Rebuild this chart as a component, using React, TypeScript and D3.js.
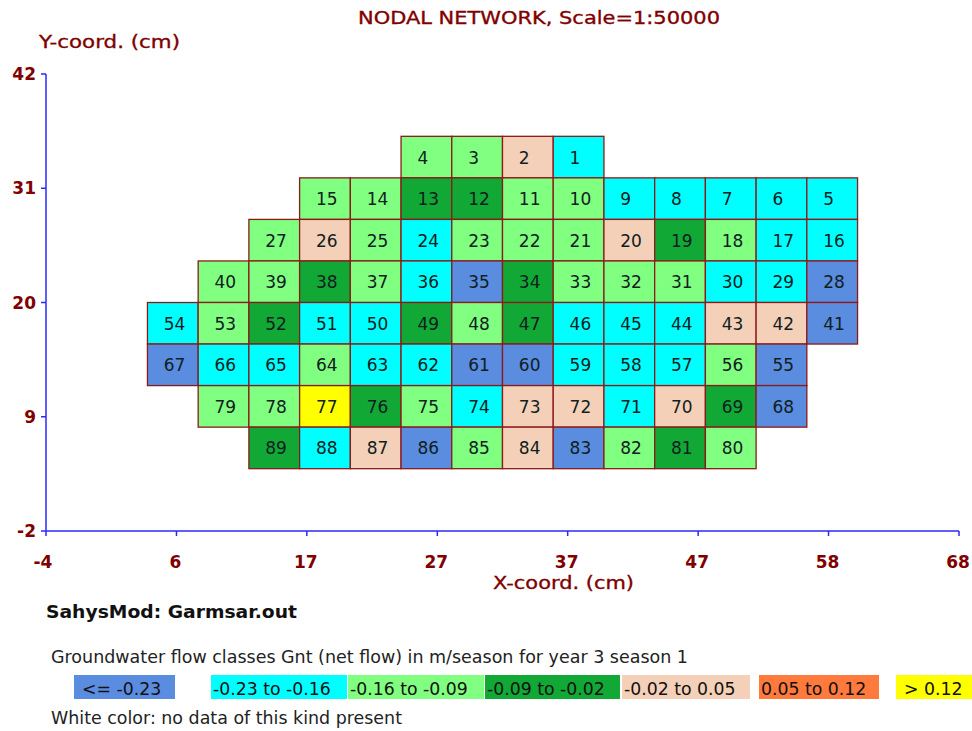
import React from "react";
import * as d3 from "d3";

const title = "NODAL NETWORK, Scale=1:50000";
const xLabel = "X-coord. (cm)";
const yLabel = "Y-coord. (cm)";
const source = "SahysMod: Garmsar.out";
const caption = "Groundwater flow classes Gnt (net flow) in m/season for year 3 season 1";
const footnote = "White color: no data of this kind present";

const xTickValues = [-4, 6.29, 16.57, 26.86, 37.14, 47.43, 57.71, 68];
const yTickValues = [42, 31, 20, 9, -2];

const classLabels = ["<= -0.23", "-0.23 to -0.16", "-0.16 to -0.09", "-0.09 to -0.02", "-0.02 to 0.05", "0.05 to 0.12", "> 0.12"];
const classColors = ["#5a8ce0", "#00ffff", "#80ff80", "#12a835", "#f5d0b8", "#ff7a3c", "#ffff00"];
const legendStart = [74, 211, 348, 485, 622, 759, 896];
const legendEnd = [175, 347, 484, 620, 750, 879, 972];

const cellSize = 4;
// grid rows: left edge (cm), bottom edge (cm), node ids and flow classes
const rowLeft = [24, 16, 12, 8, 4, 4, 8, 12];
const rowBottom = [32, 28, 24, 20, 16, 12, 8, 4];
const rowNodes = [
  [4, 3, 2, 1],
  [15, 14, 13, 12, 11, 10, 9, 8, 7, 6, 5],
  [27, 26, 25, 24, 23, 22, 21, 20, 19, 18, 17, 16],
  [40, 39, 38, 37, 36, 35, 34, 33, 32, 31, 30, 29, 28],
  [54, 53, 52, 51, 50, 49, 48, 47, 46, 45, 44, 43, 42, 41],
  [67, 66, 65, 64, 63, 62, 61, 60, 59, 58, 57, 56, 55],
  [79, 78, 77, 76, 75, 74, 73, 72, 71, 70, 69, 68],
  [89, 88, 87, 86, 85, 84, 83, 82, 81, 80],
];
const rowClasses = [
  [2, 2, 4, 1],
  [2, 2, 3, 3, 2, 2, 1, 1, 1, 1, 1],
  [2, 4, 2, 1, 2, 2, 2, 4, 3, 2, 1, 1],
  [2, 2, 3, 2, 1, 0, 3, 2, 2, 2, 1, 1, 0],
  [1, 2, 3, 1, 1, 3, 2, 3, 1, 1, 1, 4, 4, 0],
  [0, 1, 1, 2, 1, 1, 0, 0, 1, 1, 1, 2, 0],
  [2, 2, 6, 3, 2, 1, 4, 4, 1, 4, 3, 0],
  [3, 1, 4, 0, 2, 4, 0, 2, 3, 2],
];

const x = d3.scaleLinear().domain([-4, 68]).range([46, 959]);
const y = d3.scaleLinear().domain([-2, 42]).range([531, 74]);

const RED = "#800000";
const BLUE = "#2a2aff";
const UI = "'DejaVu Sans', sans-serif";

export default function App() {
  return (
    <svg width={972} height={731} style={{ position: "absolute", left: 0, top: 0, background: "#fff" }}>
      <text x={358} y={24} textLength={362} lengthAdjust="spacingAndGlyphs" fontFamily={UI} fontSize={18} fill={RED} stroke={RED} strokeWidth={0.35}>{title}</text>
      <text x={39} y={48} textLength={141} lengthAdjust="spacingAndGlyphs" fontFamily={UI} fontSize={18} fill={RED} stroke={RED} strokeWidth={0.35}>{yLabel}</text>
      <text x={493} y={589} textLength={141} lengthAdjust="spacingAndGlyphs" fontFamily={UI} fontSize={18} fill={RED} stroke={RED} strokeWidth={0.35}>{xLabel}</text>

      {rowNodes.map((nodes, r) =>
        nodes.map((id, i) => {
          const x0 = rowLeft[r] + i * cellSize;
          const y0 = rowBottom[r];
          const px = x(x0);
          const py = y(y0 + cellSize);
          const w = x(x0 + cellSize) - px;
          const h = y(y0) - py;
          return (
            <g key={id}>
              <rect x={px} y={py} width={w} height={h} fill={classColors[rowClasses[r][i]]} stroke="#8b1a1a" strokeWidth={1.3} />
              <text x={px + w / 2 - 9} y={py + h / 2 + 6.5} fontFamily={UI} fontSize={17} fill="#102020">{id}</text>
            </g>
          );
        })
      )}

      <line x1={x(-4)} x2={x(68)} y1={y(-2)} y2={y(-2)} stroke={BLUE} strokeWidth={1.5} />
      <line x1={x(-4)} x2={x(-4)} y1={y(-2)} y2={y(42)} stroke={BLUE} strokeWidth={1.5} />
      {xTickValues.map((v, i) => (
        <g key={v}>
          <line x1={x(v)} x2={x(v)} y1={y(-2)} y2={y(-2) + 5} stroke={BLUE} strokeWidth={1.5} />
          <text x={x(v) - (i === 0 ? 3 : 1)} y={568} textAnchor="middle" fontFamily={UI} fontWeight="bold" fontSize={17} fill={RED}>{String(Math.round(v))}</text>
        </g>
      ))}
      {yTickValues.map((v) => (
        <g key={v}>
          <line x1={x(-4) - 5} x2={x(-4)} y1={y(v)} y2={y(v)} stroke={BLUE} strokeWidth={1.5} />
          <text x={36} y={y(v) + 6} textAnchor="end" fontFamily={UI} fontWeight="bold" fontSize={17} fill={RED}>{String(v)}</text>
        </g>
      ))}

      <text x={46} y={618} textLength={251} lengthAdjust="spacingAndGlyphs" fontFamily={UI} fontWeight="bold" fontSize={17} fill="#111">{source}</text>
      <text x={51} y={663} textLength={637} lengthAdjust="spacingAndGlyphs" fontFamily={UI} fontSize={17} fill="#222">{caption}</text>
      {classLabels.map((t, i) => (
        <g key={t}>
          <rect x={legendStart[i]} y={675} width={legendEnd[i] - legendStart[i]} height={24} fill={classColors[i]} />
          <text x={legendStart[i] + (i === 0 ? 8 : i === 6 ? 8 : 2)} y={695} fontFamily={UI} fontSize={17.3} fill="#111">{t}</text>
        </g>
      ))}
      <text x={51} y={724} textLength={351} lengthAdjust="spacingAndGlyphs" fontFamily={UI} fontSize={17} fill="#222">{footnote}</text>
    </svg>
  );
}
